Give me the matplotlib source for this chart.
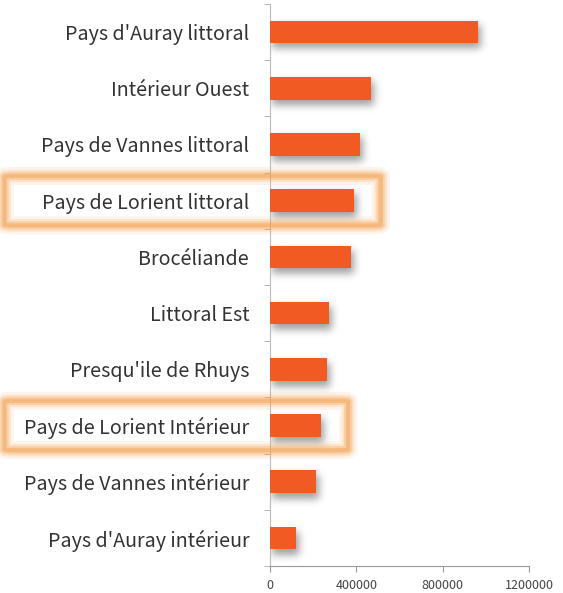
import numpy as np
import matplotlib.pyplot as plt
from matplotlib.patches import FancyBboxPatch
from matplotlib.transforms import blended_transform_factory

plt.rcParams['font.family'] = ['Noto Sans CJK KR', 'DejaVu Sans']

# data, top to bottom
zones = ["Pays d'Auray littoral", "Intérieur Ouest", "Pays de Vannes littoral",
         "Pays de Lorient littoral", "Brocéliande", "Littoral Est",
         "Presqu'ile de Rhuys", "Pays de Lorient Intérieur",
         "Pays de Vannes intérieur", "Pays d'Auray intérieur"]
values = [966000, 466000, 419000, 388000, 373000, 273000, 262000, 237000, 211000, 120000]
highlighted = ["Pays de Lorient littoral", "Pays de Lorient Intérieur"]
xticks = [0, 400000, 800000, 1200000]

bar_color = '#F15A22'
n = len(zones)
y = np.arange(n)
xmax = 1200000
bar_h = 0.4

fig = plt.figure(figsize=(5.63, 5.93), dpi=100)
ax = fig.add_axes([0.4796, 0.0455, 0.46, 0.9478])
ax.set_xlim(0, xmax)
ax.set_ylim(n - 0.5, -0.5)

# soft drop shadow under the bars (blurred mask)
W, H = 259, 562
grid = np.zeros((H, W))
px_x = xmax / W
px_y = n / H
for yi, v in zip(y, values):
    r0 = int(round((yi - bar_h / 2 + 0.5) / px_y)) + 5
    r1 = int(round((yi + bar_h / 2 + 0.5) / px_y)) + 6
    c1 = int(round(v / px_x)) + 3
    grid[max(r0, 0):min(r1, H), 2:min(c1, W)] = 1.0

def blur(a, sigma):
    k = np.arange(-3 * sigma, 3 * sigma + 1)
    g = np.exp(-k ** 2 / (2 * sigma ** 2))
    g /= g.sum()
    a = np.apply_along_axis(lambda r: np.convolve(r, g, mode='same'), 1, a)
    a = np.apply_along_axis(lambda c: np.convolve(c, g, mode='same'), 0, a)
    return a

shadow = blur(grid, 4)
rgba = np.zeros((H, W, 4))
rgba[..., 3] = shadow * 0.38
ax.imshow(rgba, extent=(0, xmax, n - 0.5, -0.5), origin='upper',
          aspect='auto', interpolation='bilinear', zorder=1)

ax.barh(y, values, height=bar_h, color=bar_color, zorder=3)

# highlight frames around some labels
trans = blended_transform_factory(fig.transFigure, ax.transData)
for name in highlighted:
    i = zones.index(name)
    xr_disp = ax.transData.transform((values[i], 0))[0] + 27
    xr = fig.transFigure.inverted().transform((xr_disp, 0))[0]
    x0 = 0.008
    for lw, a in [(13, 0.12), (9, 0.2), (6, 0.3), (3, 0.5)]:
        box = FancyBboxPatch((x0, i - 0.44), xr - x0, 0.88,
                             boxstyle='round,pad=0,rounding_size=0.018',
                             transform=trans, facecolor='none',
                             edgecolor='#F4A354', linewidth=lw, alpha=a,
                             clip_on=False, zorder=0)
        fig.patches.append(box)

ax.set_yticks(y)
ax.set_yticklabels(zones, fontsize=14.2, color='#333333')
ax.set_yticks(np.arange(n + 1) - 0.5, minor=True)
ax.tick_params(axis='y', which='major', length=0, pad=15)
ax.tick_params(axis='y', which='minor', length=4, color='#aaaaaa')

ax.set_xticks(xticks)
ax.set_xticklabels([str(t) for t in xticks], fontsize=9, color='#444444')
ax.tick_params(axis='x', length=4, color='#999999', pad=5)

for s in ['top', 'right']:
    ax.spines[s].set_visible(False)
ax.spines['left'].set_color('#bbbbbb')
ax.spines['bottom'].set_color('#999999')

fig.savefig('out.png', dpi=100)
